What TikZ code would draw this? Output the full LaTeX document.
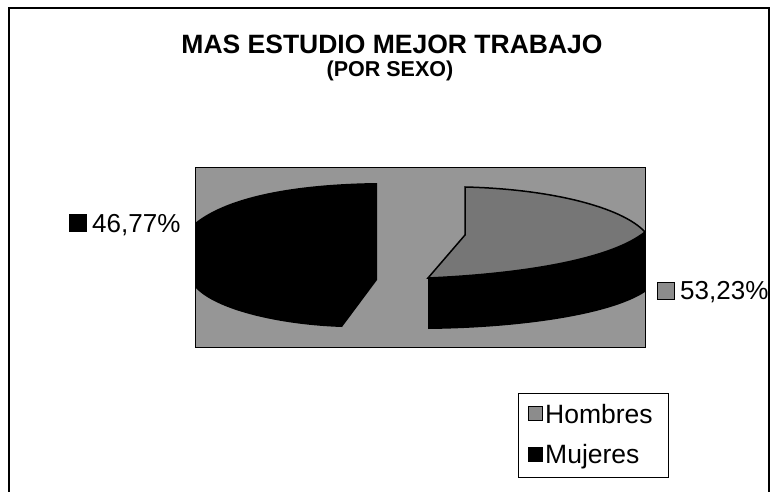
\documentclass[tikz,border=0pt]{standalone}
\usepackage{fontspec}
\setmainfont{Liberation Sans}
\usepackage{tikz}
\usetikzlibrary{positioning}
\usepackage{xcolor}
\definecolor{plotgray}{RGB}{150,150,150}
\definecolor{hombresgray}{RGB}{118,118,118}
\definecolor{keygray}{RGB}{140,140,140}
\tikzstyle{pctlabel} = [inner sep=0pt, anchor=base west, font=\fontsize{26}{30}\selectfont]
\tikzstyle{keybox} = [rectangle, draw=black, line width=0.8pt, inner sep=0pt, minimum size=17pt]
\tikzstyle{legendkey} = [keybox, minimum size=14pt]
\tikzstyle{legendtext} = [pctlabel, font=\fontsize{26.5}{30}\selectfont]

\begin{document}
\begin{tikzpicture}[x=1pt, y=-1pt]
\useasboundingbox (0,0) rectangle (771,492);
% outer frame (open at the bottom)
\draw[line width=1.2pt] (9,492) -- (9,8) -- (769,8) -- (769,492);

% title
\node[inner sep=0pt, anchor=base, font=\bfseries\fontsize{26.5}{30}\selectfont] (title) at (392,54) {MAS ESTUDIO MEJOR TRABAJO};
\node[inner sep=0pt, anchor=base, font=\bfseries\fontsize{21.5}{26}\selectfont] (subtitle) at (390,77) {(POR SEXO)};

% plot area
\fill[plotgray, draw=black, line width=0.8pt] (195,167) rectangle (645,347);

% Mujeres slice (pulled out to the left)
\fill[black] (377,183) -- (377,280) -- (342,327)
  .. controls (280,325) and (215,310) .. (195,287) -- (195,223)
  .. controls (230,195) and (300,184) .. (377,183) -- cycle;

% Hombres slice: side band
\fill[black] (428,278) -- (428,329)
  .. controls (520,328) and (610,315) .. (645,292) -- (645,232)
  .. controls (610,260) and (520,274) .. (428,278) -- cycle;
% Hombres slice: top face
\filldraw[fill=hombresgray, draw=black, line width=1.5pt] (465,187) -- (465,235) -- (428,278)
  .. controls (520,274) and (610,260) .. (645,232)
  .. controls (622,207) and (550,189) .. (465,187) -- cycle;

% data labels
\node[keybox, fill=black] (keymuj) at (78,223) {};
\node[pctlabel] (pctmuj) at (92,232) {46,77\%};
\node[keybox, fill=keygray] (keyhom) at (665.5,290.5) {};
\node[pctlabel] (pcthom) at (680,299) {53,23\%};

% legend
\node[rectangle, draw=black, line width=0.8pt, minimum width=150pt, minimum height=84pt] (legend) at (593,435) {};
\node[legendkey, fill=keygray] (leghomkey) at (535,413.5) {};
\node[legendtext] (leghom) at (545,423) {Hombres};
\node[legendkey, fill=black] (legmujkey) at (535,454) {};
\node[legendtext] (legmuj) at (545,463) {Mujeres};
\end{tikzpicture}
\end{document}
